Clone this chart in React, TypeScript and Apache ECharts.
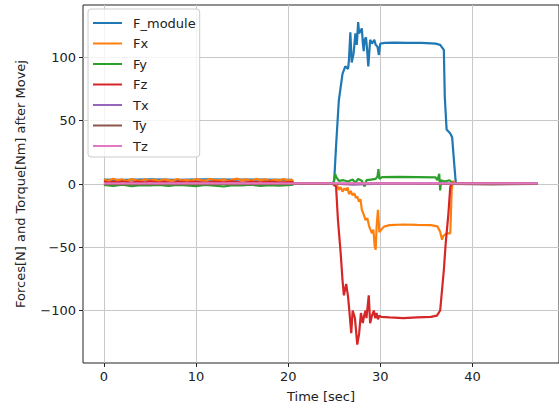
import React, { useEffect, useRef } from "react";
import * as echarts from "echarts";

const seriesNames = ["F_module", "Fx", "Fy", "Fz", "Tx", "Ty", "Tz"];
const seriesColors = ["#1f77b4", "#ff7f0e", "#2ca02c", "#d62728", "#9467bd", "#8c564b", "#e377c2"];
const xTicks = [0, 10, 20, 30, 40];
const yTicks = [-100, -50, 0, 50, 100];

const fModule: number[][] = [
  [0, 3.5], [2, 3.3], [5, 3.6], [8, 3.2], [11, 3.6], [14, 3.4], [17, 3.5], [20.4, 3.3],
  [20.6, 0.3], [24.9, 0.5], [25.0, 3], [25.2, 30], [25.5, 66], [25.9, 87], [26.2, 93], [26.5, 91],
  [26.6, 98], [26.75, 120], [26.9, 96], [27.1, 103], [27.3, 119], [27.45, 110], [27.6, 128],
  [27.7, 119], [27.85, 121], [28.0, 123], [28.1, 112], [28.2, 105], [28.3, 114], [28.45, 116],
  [28.55, 108], [28.7, 93], [28.9, 114], [29.1, 111], [29.35, 114], [29.5, 110], [29.7, 108.5],
  [29.85, 102], [30.0, 111], [30.5, 111.5], [31.5, 111.8], [33, 111.6], [34.5, 111.5], [36.0, 111],
  [36.5, 110], [36.9, 106], [37.0, 69], [37.2, 43], [37.6, 40], [37.8, 37], [38.05, 13.7],
  [38.2, 0.8], [40, 0.6], [43, 0.7], [47.1, 0.6],
];

const fx: number[][] = [
  [0, 3.4], [0.5, 2.6], [1, 4.1], [1.5, 2.9], [2, 3.6], [2.5, 2.3], [3, 3.9], [3.5, 3.1], [4, 2.5],
  [4.5, 3.8], [5, 2.8], [5.5, 3.5], [6, 2.4], [6.5, 3.7], [7, 3.0], [7.5, 2.6], [8, 3.9], [8.5, 2.7],
  [9, 3.3], [9.5, 2.5], [10, 3.8], [10.5, 3.1], [11, 2.6], [11.5, 4.0], [12, 3.2], [12.5, 2.8],
  [13, 3.7], [13.5, 2.4], [14, 3.5], [14.5, 4.2], [15, 3.0], [15.5, 3.6], [16, 2.6], [16.5, 4.0],
  [17, 3.1], [17.5, 3.7], [18, 2.5], [18.5, 3.4], [19, 2.8], [19.5, 3.9], [20, 2.9], [20.4, 3.3],
  [20.6, 0.2], [25.1, 0.3], [25.3, -0.8], [25.5, -4.7], [25.7, -2.5], [25.9, -6], [26.1, -3.5],
  [26.3, -5], [26.45, -2.8], [26.6, -8], [26.8, -5.5], [26.95, -8.7], [27.2, -7.5], [27.35, -11],
  [27.5, -10], [27.7, -14], [27.85, -12], [28.0, -20.5], [28.2, -24], [28.4, -28.5],
  [28.6, -27], [28.8, -33.7], [29.1, -39], [29.25, -36], [29.4, -49.5], [29.5, -52], [29.6, -34],
  [29.75, -20.5], [29.9, -38], [30.0, -37], [30.4, -33.7], [31, -32.5], [32.5, -32], [34, -32.3],
  [35.5, -32.5], [36.2, -33.5], [36.5, -37.7], [36.7, -44], [36.85, -41], [37.2, -39], [37.6, -39],
  [37.75, -4.7], [37.9, 2.5], [38.1, 0.3], [47.1, 0.2],
];

const fy: number[][] = [
  [0, -0.8], [1, -1.5], [2, -0.6], [3, -1.8], [4, -0.9], [5, -1.2], [6, -0.7], [7, -1.6], [8, -0.8],
  [9, -1.1], [10, -1.7], [11, -0.7], [12, -1.3], [13, -2.0], [14, -0.9], [15, -1.2], [16, -0.6],
  [17, -1.5], [18, -1.0], [19, -1.4], [20.4, -0.8],
  [20.6, 0], [24.9, 0.5], [25.0, 3.5], [25.1, 8], [25.2, 5.8], [25.5, 2.5], [26, 3], [26.5, 2],
  [27, 3.5], [27.3, 1], [27.6, 4], [28.0, 2.5], [28.3, -2], [28.5, 3], [29.0, 3.5], [29.5, 4],
  [29.7, 6], [29.8, 11.8], [29.9, 4], [30.2, 5.5], [32, 5.6], [34, 5.5], [36, 5.2], [36.2, 3],
  [36.4, 8], [36.5, -5], [36.6, 3], [37.0, 2], [37.5, 3], [37.8, 1], [38.0, 0], [47.1, 0],
];

const fz: number[][] = [
  [0, 2.2], [0.5, 1.1], [1, 1.9], [1.5, 1.3], [2, 2.0], [3, 1.2], [3.5, 1.8], [4.5, 1.4], [5, 2.1],
  [6, 1.2], [6.5, 1.7], [7.5, 1.0], [8, 1.9], [9, 1.3], [10, 1.8], [11, 1.1], [12, 1.9], [13, 1.4],
  [14, 2.0], [15, 1.2], [16, 1.8], [17, 1.3], [18, 1.9], [19, 1.4], [20.4, 1.6],
  [20.6, 0.3], [24.8, 0.3], [25.2, -2], [25.4, -28], [25.7, -54.6], [25.9, -76], [26.05, -88],
  [26.3, -79], [26.5, -89], [26.6, -97], [26.85, -118], [27.0, -100], [27.25, -106], [27.5, -127],
  [27.7, -118.5], [27.9, -102], [28.1, -110], [28.25, -104], [28.4, -100], [28.5, -106],
  [28.75, -88], [28.9, -110], [29.1, -104], [29.3, -100], [29.45, -106], [29.6, -102],
  [29.75, -107], [29.9, -104], [30.1, -105], [31, -105.5], [32.5, -106], [34, -105.5], [35.5, -105],
  [36.15, -104], [36.5, -100], [36.9, -68], [37.1, -47], [37.4, -23], [37.6, -2], [37.8, 0.3],
  [47.1, 0.3],
];

const tx: number[][] = [
  [0, 0.1], [20.5, 0.2], [25, 0.2], [27, -0.5], [30, 0.3], [37, 0.5], [38, 0.2], [47.1, 0.2],
];
const ty: number[][] = [
  [0, -0.2], [20.5, 0], [25, 0.1], [28, 0.6], [33, 0.4], [38, 0], [42, -0.3], [47.1, 0],
];
const tz: number[][] = [
  [0, 0.4], [10, 0.5], [20.5, 0.4], [25, 0.5], [30, 0.6], [36, 0.5], [38, 0.4], [47.1, 0.5],
];

const seriesData = [fModule, fx, fy, fz, tx, ty, tz];

const FONT = "DejaVu Sans";
const TEXT = "#222";

export default function App() {
  const ref = useRef<HTMLDivElement>(null);
  useEffect(() => {
    const chart = echarts.init(ref.current!, null, { renderer: "svg" });
    chart.setOption({
      animation: false,
      backgroundColor: "#fff",
      grid: {
        left: 83,
        top: 5,
        width: 478,
        height: 358,
        show: true,
        borderColor: TEXT,
        borderWidth: 1,
        backgroundColor: "transparent",
      },
      legend: {
        data: seriesNames,
        orient: "vertical",
        left: 88,
        top: 9,
        icon: "rect",
        itemWidth: 29,
        itemHeight: 2,
        itemGap: 6.5,
        padding: [7, 4, 4, 5],
        backgroundColor: "rgba(255,255,255,0.8)",
        borderColor: "#cccccc",
        borderWidth: 1,
        borderRadius: 3,
        textStyle: {
          fontSize: 13,
          lineHeight: 14,
          fontFamily: FONT,
          color: TEXT,
          padding: [0, 0, 0, 6],
        },
      },
      xAxis: {
        type: "value",
        min: -2.27,
        max: 49.4,
        name: "Time [sec]",
        nameLocation: "middle",
        nameGap: 27,
        nameTextStyle: { fontSize: 13, fontFamily: FONT, color: TEXT },
        axisLine: { show: false, onZero: false },
        axisTick: { show: true, length: 4, lineStyle: { color: TEXT }, customValues: xTicks },
        axisLabel: { customValues: xTicks, fontSize: 13, fontFamily: FONT, color: TEXT, margin: 7 },
        splitLine: { show: true, lineStyle: { color: "#c8c8c8", width: 1 } },
      },
      yAxis: {
        type: "value",
        min: -141.5,
        max: 141.5,
        name: "Forces[N] and Torque[Nm] after Movej",
        nameLocation: "middle",
        nameGap: 56,
        nameTextStyle: { fontSize: 13, fontFamily: FONT, color: TEXT },
        axisLine: { show: false, onZero: false },
        axisTick: { show: true, length: 4, lineStyle: { color: TEXT }, customValues: yTicks },
        axisLabel: {
          customValues: yTicks,
          fontSize: 13,
          fontFamily: FONT,
          color: TEXT,
          margin: 7,
          formatter: (v: number) => String(v).replace("-", "\u2212"),
        },
        splitLine: { show: true, lineStyle: { color: "#c8c8c8", width: 1 } },
      },
      series: seriesNames.map((name, i) => ({
        name,
        type: "line",
        data: seriesData[i],
        symbol: "none",
        showSymbol: false,
        color: seriesColors[i],
        itemStyle: { color: seriesColors[i] },
        lineStyle: { width: 2.2, color: seriesColors[i] },
        clip: true,
      })),
    });
    return () => chart.dispose();
  }, []);
  return (
    <div
      ref={ref}
      style={{ position: "fixed", left: 0, top: 0, width: 559, height: 410, background: "#fff" }}
    />
  );
}
